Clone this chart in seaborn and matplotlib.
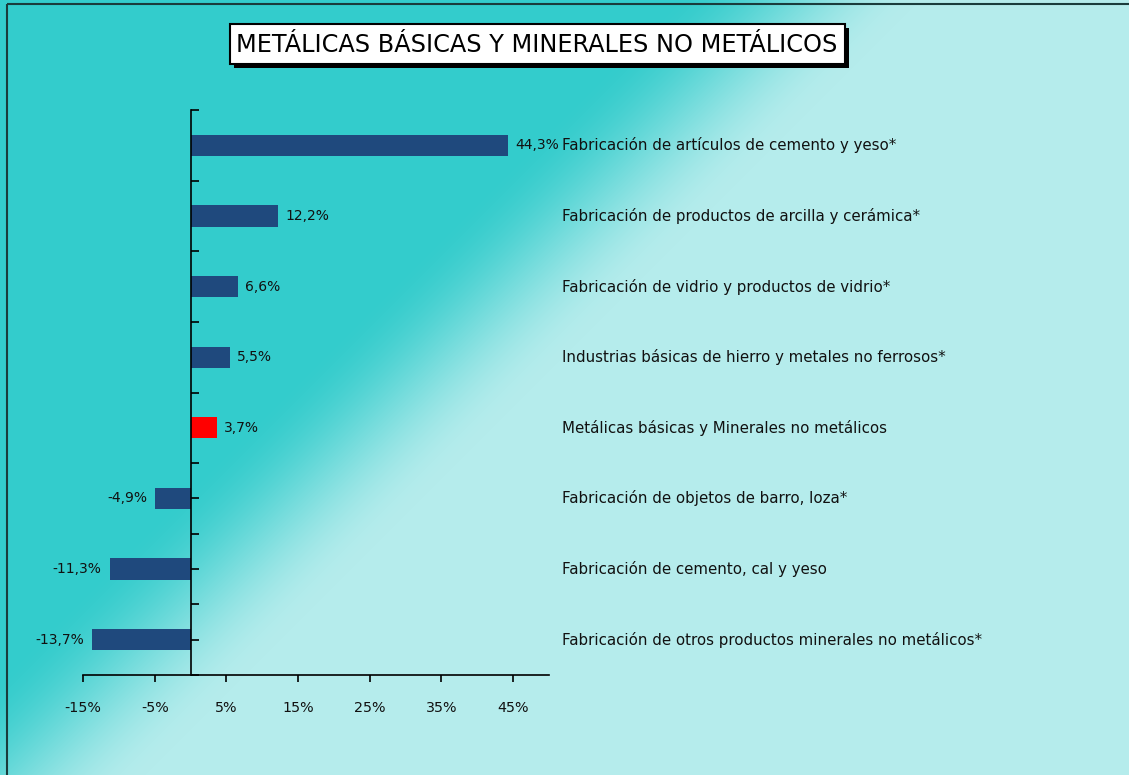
import matplotlib
matplotlib.use("Agg")
import matplotlib.pyplot as plt
import matplotlib.transforms as mtransforms
from matplotlib.patches import Rectangle
import numpy as np
import seaborn as sns

# data
categories = [
    "Fabricación de artículos de cemento y yeso*",
    "Fabricación de productos de arcilla y cerámica*",
    "Fabricación de vidrio y productos de vidrio*",
    "Industrias básicas de hierro y metales no ferrosos*",
    "Metálicas básicas y Minerales no metálicos",
    "Fabricación de objetos de barro, loza*",
    "Fabricación de cemento, cal y yeso",
    "Fabricación de otros productos minerales no metálicos*",
]
values = [44.3, 12.2, 6.6, 5.5, 3.7, -4.9, -11.3, -13.7]
value_labels = ["44,3%", "12,2%", "6,6%", "5,5%", "3,7%", "-4,9%", "-11,3%", "-13,7%"]
xticks = [-15, -5, 5, 15, 25, 35, 45]
xtick_labels = ["-15%", "-5%", "5%", "15%", "25%", "35%", "45%"]
title = "METÁLICAS BÁSICAS Y MINERALES NO METÁLICOS"

sns.set_theme(style="white")
plt.rcParams["font.family"] = ["DejaVu Sans"]

W, H = 1129, 775
fig = plt.figure(figsize=(W / 100, H / 100), dpi=100)

# diagonal gradient background
bg = fig.add_axes([0, 0, 1, 1], zorder=-2)
yy, xx = np.mgrid[0:H, 0:W]
t = np.clip((xx + yy - 670) / 250.0, 0, 1)
t = (t * t * (3 - 2 * t))[..., None]
teal = np.array([51, 204, 204]) / 255
light = np.array([181, 236, 236]) / 255
bg.imshow(teal * (1 - t) + light * t, extent=[0, W, H, 0], aspect="auto")
bg.set_xlim(0, W)
bg.set_ylim(H, 0)
bg.axis("off")
bg.add_patch(Rectangle((7, 4), W, H, fill=False, edgecolor="#1a3c3c", lw=1.5))

# title box with shadow
bg.add_patch(Rectangle((234, 28), 615, 40, facecolor="black", edgecolor="none"))
bg.add_patch(Rectangle((230, 24), 615, 40, facecolor="white", edgecolor="black", lw=1.5))
bg.text(537, 45, title, ha="center", va="center", fontsize=17.3, color="black")

ax = fig.add_axes([83 / W, 1 - 675 / H, (549 - 83) / W, (675 - 110) / H])
ax.set_facecolor("none")

colors = ["#1f497d"] * len(values)
colors[4] = "#ff0000"
sns.barplot(x=values, y=categories, hue=categories, palette=colors, legend=False,
            orient="h", width=0.3, ax=ax, saturation=1, linewidth=0)

ax.set_xlim(-15, 50)
ax.set_ylim(7.5, -0.5)
ax.set_xticks(xticks)
ax.set_xticklabels(xtick_labels, fontsize=10.3)
ax.set_yticks(np.arange(-0.5, 8, 0.5))
ax.set_yticklabels([])
ax.set_xlabel("")
ax.set_ylabel("")

ax.spines["left"].set_position(("data", 0))
ax.spines["top"].set_visible(False)
ax.spines["right"].set_visible(False)
for s in ["left", "bottom"]:
    ax.spines[s].set_color("black")
    ax.spines[s].set_linewidth(1.2)
ax.tick_params(axis="x", direction="out", length=5, width=1.2, color="black", pad=14,
               bottom=True, labelcolor="#111111")
ax.tick_params(axis="y", direction="in", length=6, width=1.2, color="black", left=True)

for i, v in enumerate(values):
    if v >= 0:
        ax.annotate(value_labels[i], (v, i), xytext=(5, 0), textcoords="offset points",
                    ha="left", va="center", fontsize=10, color="#111111")
    else:
        ax.annotate(value_labels[i], (v, i), xytext=(-6, 0), textcoords="offset points",
                    ha="right", va="center", fontsize=10, color="#111111")

trans = mtransforms.blended_transform_factory(ax.transAxes, ax.transData)
for i, c in enumerate(categories):
    ax.text(1.028, i, c, transform=trans, ha="left", va="center", fontsize=10.8,
            color="#111111", clip_on=False)

fig.savefig("out.png", dpi=100)
